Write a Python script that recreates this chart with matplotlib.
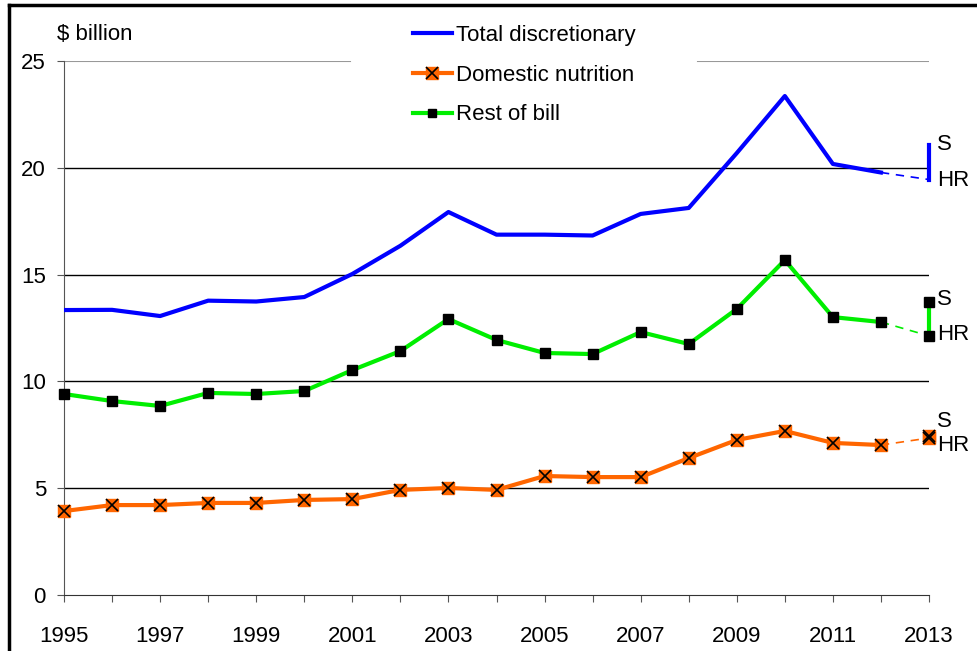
import matplotlib
matplotlib.use("Agg")
import matplotlib.pyplot as plt
from matplotlib.lines import Line2D

plt.rcParams['font.family'] = ['Liberation Sans', 'DejaVu Sans']

years = list(range(1995, 2013))
total = [13.34, 13.35, 13.06, 13.78, 13.74, 13.95, 15.03, 16.35, 17.93,
         16.87, 16.87, 16.83, 17.84, 18.12, 20.69, 23.36, 20.18, 19.78]
nutrition = [3.93, 4.21, 4.21, 4.31, 4.31, 4.45, 4.49, 4.92, 5.01,
             4.92, 5.57, 5.52, 5.52, 6.41, 7.26, 7.68, 7.12, 7.02]
rest = [9.41, 9.08, 8.85, 9.46, 9.41, 9.55, 10.53, 11.42, 12.92,
        11.94, 11.33, 11.28, 12.31, 11.75, 13.39, 15.68, 13.01, 12.78]

proj_year = 2013
total_2013 = {"S": 21.07, "HR": 19.45}
nutrition_2013 = {"S": 7.44, "HR": 7.35}
rest_2013 = {"S": 13.72, "HR": 12.13}

labels = ["Total discretionary", "Domestic nutrition", "Rest of bill"]
xtick_years = list(range(1995, 2014, 2))
yticks = [0, 5, 10, 15, 20, 25]

blue = "#0000FF"
orange = "#FF6600"
green = "#00EE00"

FS = 16
NMS = 8.5

fig = plt.figure(figsize=(9.77, 6.51), dpi=100)
ax = fig.add_axes([64/977, 1-595/651, (929-64)/977, (595-61)/651])

ax.set_xlim(1995, 2013)
ax.set_ylim(0, 25)

# gridlines
for v in yticks[1:-1]:
    ax.axhline(v, color="black", lw=1.0, zorder=1)
ax.axhline(25, xmin=0, xmax=(350-64)/865, color="#999999", lw=1.5, zorder=1)
ax.axhline(25, xmin=(698-64)/865, xmax=1, color="#999999", lw=1.5, zorder=1)

# Total
ax.plot(years, total, color=blue, lw=3, zorder=3)
ax.plot([years[-1], proj_year], [total[-1], total_2013["HR"]], color=blue, lw=1.2,
        dashes=(5, 4), zorder=3, clip_on=False)
ax.plot([proj_year, proj_year], [total_2013["HR"], total_2013["S"]], color=blue, lw=3,
        zorder=3, clip_on=False)

# Rest of bill
ax.plot(years, rest, color=green, lw=3, zorder=3)
ax.plot([years[-1], proj_year], [rest[-1], rest_2013["HR"]], color=green, lw=1.2,
        dashes=(5, 4), zorder=3, clip_on=False)
ax.plot([proj_year, proj_year], [rest_2013["HR"], rest_2013["S"]], color=green, lw=3,
        zorder=3, clip_on=False)
ax.plot(years + [proj_year, proj_year], rest + [rest_2013["HR"], rest_2013["S"]],
        ls="none", marker="s", ms=6.5, mfc="black", mec="black", zorder=4, clip_on=False)

# Domestic nutrition
ax.plot(years, nutrition, color=orange, lw=3, zorder=3)
ax.plot([years[-1], proj_year], [nutrition[-1], nutrition_2013["HR"]], color=orange, lw=1.2,
        dashes=(5, 4), zorder=3, clip_on=False)
nx = years + [proj_year, proj_year]
ny = nutrition + [nutrition_2013["HR"], nutrition_2013["S"]]
ax.plot(nx, ny, ls="none", marker="s", ms=NMS, mfc=orange, mec=orange, zorder=4, clip_on=False)
ax.plot(nx, ny, ls="none", marker="x", ms=NMS, mec="black", mew=1.2, zorder=5, clip_on=False)

# S / HR labels
lab_kw = dict(fontsize=FS, va="center", ha="left", clip_on=False)
ax.text(2013.17, 21.1, "S", **lab_kw)
ax.text(2013.17, 19.4, "HR", **lab_kw)
ax.text(2013.17, 13.85, "S", **lab_kw)
ax.text(2013.17, 12.2, "HR", **lab_kw)
ax.text(2013.17, 8.12, "S", **lab_kw)
ax.text(2013.17, 7.0, "HR", **lab_kw)

# axes styling
for s in ["top", "right"]:
    ax.spines[s].set_visible(False)
ax.spines["left"].set_color("#555555")
ax.spines["bottom"].set_color("#333333")
ax.set_xticks(years + [proj_year])
ax.set_xticklabels([str(y) if y in xtick_years else "" for y in years + [proj_year]])
ax.set_yticks(yticks)
ax.tick_params(axis="both", labelsize=FS, color="#555555", length=5)
ax.tick_params(axis="y", pad=8)
ax.tick_params(axis="x", pad=17)

ax.text(-0.008, 1.0 + 27/534, "$ billion", transform=ax.transAxes, fontsize=FS,
        ha="left", va="center")

# legend
h_total = Line2D([], [], color=blue, lw=3)
h_nut = (Line2D([], [], color=orange, lw=3, marker="s", ms=NMS, mfc=orange, mec=orange),
         Line2D([], [], ls="none", marker="x", ms=NMS, mec="black", mew=1.2))
h_rest = Line2D([], [], color=green, lw=3, marker="s", ms=5.5, mfc="black", mec="black")
leg = fig.legend([h_total, h_nut, h_rest], labels, loc="upper left",
                 bbox_to_anchor=(406/977, 1-18/651), fontsize=FS, frameon=False,
                 handlelength=1.75, handletextpad=0.2, labelspacing=0.85, borderpad=0.3,
                 borderaxespad=0)
leg.set_zorder(10)

# outer frame (top and left visible)
fig.add_artist(Line2D([9/977, 9/977], [0, 1-5/651], color="black", lw=2.5,
                      transform=fig.transFigure))
fig.add_artist(Line2D([9/977, 1], [1-5/651, 1-5/651], color="black", lw=2.5,
                      transform=fig.transFigure))

fig.savefig("out.png", dpi=100)
